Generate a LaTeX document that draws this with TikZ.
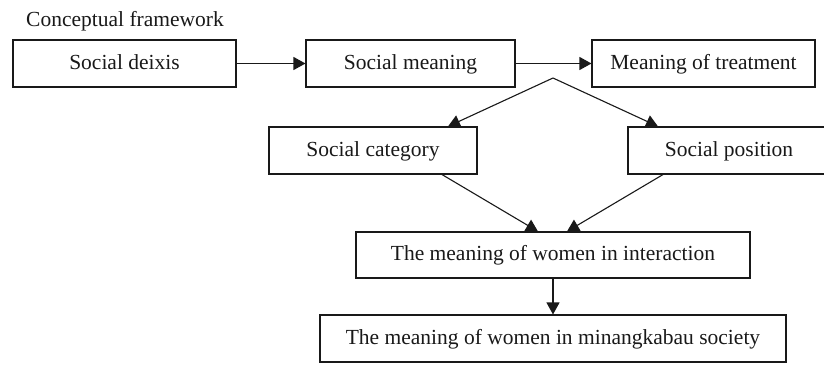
\documentclass[tikz,border=0pt]{standalone}
\usepackage{fontspec}
\setmainfont{Liberation Serif}
\usetikzlibrary{arrows.meta}
\begin{document}
\begin{tikzpicture}[x=1pt,y=-1pt,
  box/.style={draw=black!90, line width=1.1pt, inner sep=0pt, minimum height=47pt, text height=14pt, text depth=3pt, font=\fontsize{21.5}{24}\selectfont, text=black!90},
  arr/.style={draw=black!90, line width=1.1pt, -{Triangle[length=12pt,width=13pt]}}]
\clip (0,0) rectangle (824,364);
\fill[white] (0,0) rectangle (824,364);
\node[anchor=base west, inner sep=0pt, font=\fontsize{21.5}{24}\selectfont, text=black!90] (title) at (26,26) {Conceptual framework};
\node[box, minimum width=223pt] (deixis) at (124.5,63.5) {Social deixis};
\node[box, minimum width=209pt] (meaning) at (410.5,63.5) {Social meaning};
\node[box, minimum width=223pt] (treat) at (703.5,63.5) {Meaning of treatment};
\node[box, minimum width=208pt] (cat) at (373,150.5) {Social category};
\node[box, minimum width=202pt] (pos) at (729,150.5) {Social position};
\node[box, minimum width=394pt, minimum height=46pt] (inter) at (553,255) {The meaning of women in interaction};
\node[box, minimum width=466pt] (mina) at (553,338.5) {The meaning of women in minangkabau society};
\coordinate (apex) at (553,78);
\draw[arr] (deixis.east) -- (meaning.west);
\draw[arr] (meaning.east) -- (treat.west);
\draw[arr] (apex) -- ([xshift=75pt]cat.north);
\draw[arr] (apex) -- ([xshift=-71pt]pos.north);
\draw[arr] ([xshift=69pt]cat.south) -- ([xshift=-15pt]inter.north);
\draw[arr] ([xshift=-66pt]pos.south) -- ([xshift=14pt]inter.north);
\draw[arr] (inter.south) -- (mina.north);
\end{tikzpicture}
\end{document}
